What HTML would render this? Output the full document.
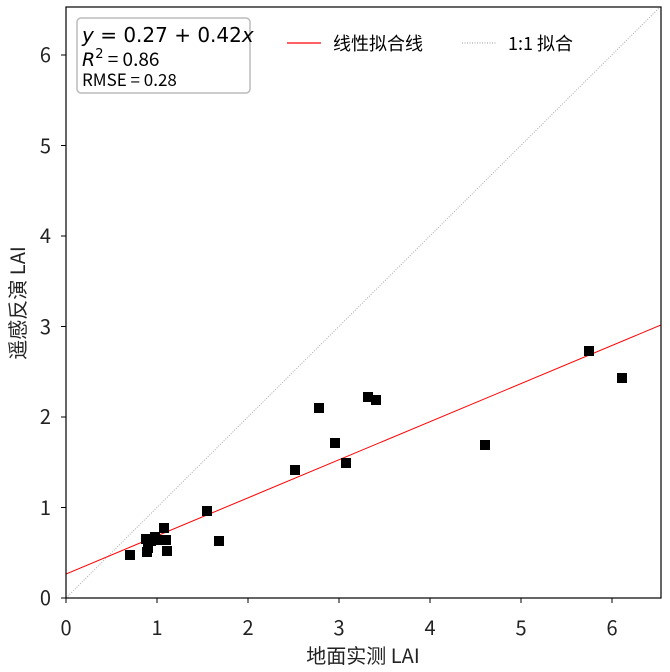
<!DOCTYPE html>
<html><head><meta charset="utf-8"><style>body{margin:0;background:#fff}svg{display:block}text{font-family:"WenQuanYi Zen Hei","Noto Sans CJK SC",sans-serif}</style></head>
<body>
<svg width="670" height="672" xmlns="http://www.w3.org/2000/svg">
<defs><clipPath id="c"><rect x="66" y="7" width="595" height="591"/></clipPath></defs>
<g clip-path="url(#c)">
<line x1="66" y1="598" x2="661" y2="6" stroke="#aaa" stroke-width="1" stroke-dasharray="1,1.5"/>
<line x1="66" y1="574" x2="661" y2="325" stroke="#f00" stroke-width="1"/>
<g fill="#000">
<rect x="125" y="550" width="10" height="10"/><rect x="141" y="534" width="10" height="10"/>
<rect x="143" y="543" width="10" height="10"/><rect x="142" y="547" width="10" height="10"/>
<rect x="146" y="536" width="10" height="10"/><rect x="150" y="532" width="10" height="10"/>
<rect x="153" y="535" width="10" height="10"/><rect x="159" y="523" width="10" height="10"/>
<rect x="161" y="535" width="10" height="10"/><rect x="162" y="546" width="10" height="10"/>
<rect x="202" y="506" width="10" height="10"/><rect x="214" y="536" width="10" height="10"/>
<rect x="290" y="465" width="10" height="10"/><rect x="314" y="403" width="10" height="10"/>
<rect x="330" y="438" width="10" height="10"/><rect x="341" y="458" width="10" height="10"/>
<rect x="363" y="392" width="10" height="10"/><rect x="371" y="395" width="10" height="10"/>
<rect x="480" y="440" width="10" height="10"/><rect x="584" y="346" width="10" height="10"/>
<rect x="617" y="373" width="10" height="10"/>
</g></g>
<rect x="66" y="7" width="595" height="591" fill="none" stroke="#000" stroke-width="1.2"/>
<g stroke="#000"><line x1="66" y1="598" x2="66" y2="603"/><line x1="157" y1="598" x2="157" y2="603"/><line x1="248" y1="598" x2="248" y2="603"/><line x1="339" y1="598" x2="339" y2="603"/><line x1="430" y1="598" x2="430" y2="603"/><line x1="521" y1="598" x2="521" y2="603"/><line x1="612" y1="598" x2="612" y2="603"/>
<line x1="61" y1="598" x2="66" y2="598"/><line x1="61" y1="507.5" x2="66" y2="507.5"/><line x1="61" y1="417" x2="66" y2="417"/><line x1="61" y1="326.5" x2="66" y2="326.5"/><line x1="61" y1="236" x2="66" y2="236"/><line x1="61" y1="145.5" x2="66" y2="145.5"/><line x1="61" y1="55" x2="66" y2="55"/></g>
<g font-size="20" text-anchor="middle" fill="#222"><text x="66" y="635">0</text><text x="157" y="635">1</text><text x="248" y="635">2</text><text x="339" y="635">3</text><text x="430" y="635">4</text><text x="521" y="635">5</text><text x="612" y="635">6</text></g>
<g font-size="20" text-anchor="end" fill="#222"><text x="51" y="605">0</text><text x="51" y="515">1</text><text x="51" y="424">2</text><text x="51" y="334">3</text><text x="51" y="243">4</text><text x="51" y="153">5</text><text x="51" y="62">6</text></g>
<text x="363" y="663" font-size="20" text-anchor="middle" fill="#222">地面实测 LAI</text>
<text transform="translate(25,303) rotate(-90)" font-size="20" text-anchor="middle" fill="#222">遥感反演 LAI</text>
<rect x="77" y="18" width="173" height="75" rx="4" fill="#fff" stroke="#bbb" stroke-width="1.5"/>
<text x="82" y="42" font-size="20" font-style="italic" style="font-family:'DejaVu Sans',sans-serif">y <tspan font-style="normal">= 0.27 + 0.42</tspan>x</text>
<text x="82" y="66" font-size="19"><tspan font-style="italic" style="font-family:'DejaVu Sans',sans-serif">R</tspan><tspan font-size="13" dy="-8" style="font-family:'DejaVu Sans',sans-serif">2</tspan><tspan dy="8"> = 0.86</tspan></text>
<text x="82" y="86" font-size="17">RMSE = 0.28</text>
<line x1="287" y1="43" x2="321" y2="43" stroke="#f00" stroke-width="1.2"/>
<text x="333" y="50" font-size="18">线性拟合线</text>
<line x1="462" y1="43" x2="496" y2="43" stroke="#999" stroke-dasharray="1,1.5"/>
<text x="508" y="50" font-size="18">1:1 拟合</text>
</svg>
</body></html>
